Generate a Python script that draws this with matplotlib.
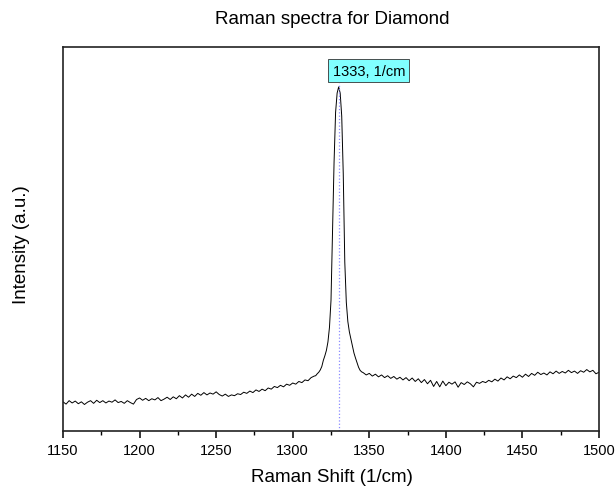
import numpy as np
import matplotlib
matplotlib.use("Agg")
import matplotlib.pyplot as plt
from matplotlib.ticker import MultipleLocator

# ---- data ----
x_left = np.arange(1150, 1315, 2)
y_left = [7.6, 7.0, 7.9, 7.3, 7.8, 7.1, 7.6, 6.9, 7.5, 7.9,
          7.2, 8.0, 7.4, 7.9, 7.3, 7.8, 7.5, 8.1, 7.4, 7.7,
          7.2, 7.9, 7.4, 7.0, 8.2, 8.6, 8.0, 8.5, 7.9, 8.4,
          8.1, 8.7, 7.9, 8.3, 8.8, 8.2, 8.9, 8.4, 9.2, 8.6,
          9.4, 8.8, 9.6, 9.0, 9.8, 9.3, 10.0, 9.4, 9.9, 9.6,
          10.2, 9.5, 9.1, 9.6, 9.0, 9.4, 9.2, 9.7, 9.5, 10.1,
          9.8, 10.4, 10.0, 10.7, 10.3, 10.9, 10.5, 11.2, 10.9, 11.6,
          11.3, 11.9, 11.5, 12.2, 11.9, 12.5, 12.2, 12.9, 12.6, 13.3,
          13.1, 13.9, 14.3]

x_peak = np.arange(1315, 1346, 1)
y_peak = [14.4, 14.9, 15.3, 15.9, 16.8, 18.4, 19.6, 21.0, 23.2, 27.0,
          34.0, 52.0, 70.0, 83.0, 88.0, 89.6, 88.0, 82.0, 67.0, 44.0,
          33.5, 28.5, 25.8, 24.0, 22.2, 20.3, 19.0, 17.8, 16.6, 15.8,
          15.4]

x_right = np.arange(1346, 1501, 2)
y_right = [15.2, 14.6, 15.0, 14.3, 14.8, 14.1, 14.6, 13.9, 14.4, 13.7,
           14.2, 13.5, 14.0, 13.3, 13.9, 13.1, 13.8, 12.9, 13.6, 12.6,
           13.4, 12.3, 13.2, 11.6, 12.9, 11.5, 13.0, 11.8, 12.7, 12.2,
           12.8, 11.4, 12.6, 12.1, 12.8, 12.3, 11.5, 12.7, 12.4, 12.9,
           12.6, 13.2, 12.8, 13.5, 13.0, 13.8, 13.3, 14.1, 13.6, 14.3,
           13.9, 14.6, 14.0, 14.8, 14.2, 15.0, 14.5, 15.3, 14.7, 15.1,
           14.6, 15.4, 14.9, 15.6, 15.0, 15.5, 15.1, 15.8, 15.2, 15.6,
           15.0, 15.7, 15.3, 16.0, 15.4, 15.8, 14.9, 15.3]

peak_pos = 1330.2
peak_label = "1333, 1/cm"
x_ticks = [1150, 1200, 1250, 1300, 1350, 1400, 1450, 1500]

shift = np.concatenate([x_left, x_peak, x_right])
intensity = np.concatenate([y_left, y_peak, y_right])

# ---- plot ----
plt.rcParams['font.family'] = ['Liberation Sans', 'DejaVu Sans']
fig = plt.figure(figsize=(6.16, 4.89), dpi=100)
ax = fig.add_axes([63/616, 1 - 432/489, (599 - 63)/616, (432 - 48)/489])

ax.plot(shift, intensity, color='black', lw=0.7)
ax.set_xlim(1150, 1500)
ax.set_ylim(0, 100)
ax.set_xticks(x_ticks)
ax.xaxis.set_minor_locator(MultipleLocator(25))
ax.set_yticks([])
ax.tick_params(axis='x', which='major', direction='out', length=5, width=1.1,
               labelsize=10.5, pad=4)
ax.tick_params(axis='x', which='minor', direction='out', length=3, width=1.0)
for s in ax.spines.values():
    s.set_linewidth(1.2)
    s.set_color('#222222')

ax.axvline(peak_pos, ymin=0, ymax=0.905, color='#8a8aff', lw=0.9, ls=':')
ax.text(1349.7, 93.8, peak_label, ha='center', va='center', fontsize=10.5,
        bbox=dict(boxstyle='square,pad=0.3', facecolor='#80ffff',
                  edgecolor='#333333', linewidth=0.6))

fig.text(332/616, 1 - 20/489, "Raman spectra for Diamond", ha='center',
         va='center', fontsize=13.5)
fig.text(332/616, 1 - 478/489, "Raman Shift (1/cm)", ha='center',
         va='center', fontsize=13.5)
fig.text(22/616, 1 - 245/489, "Intensity (a.u.)", ha='center', va='center',
         rotation=90, fontsize=13.5)

fig.savefig("out.png", dpi=100)
